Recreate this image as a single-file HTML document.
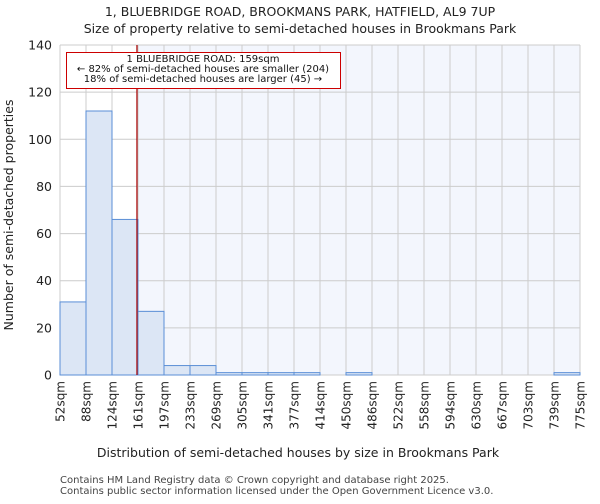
<!DOCTYPE html>
<html><head><meta charset="utf-8"><style>
body{margin:0;background:#fff;font-family:"DejaVu Sans","Liberation Sans",sans-serif;}
</style></head><body>
<svg width="600" height="500" xmlns="http://www.w3.org/2000/svg" font-family="DejaVu Sans, Liberation Sans, sans-serif">
<text x="300" y="16" text-anchor="middle" font-size="12.5" fill="#222">1, BLUEBRIDGE ROAD, BROOKMANS PARK, HATFIELD, AL9 7UP</text>
<text x="300" y="33" text-anchor="middle" font-size="12.5" fill="#222">Size of property relative to semi-detached houses in Brookmans Park</text>
<g id="plot"></g>
<text x="298" y="457" text-anchor="middle" font-size="12.5" fill="#222">Distribution of semi-detached houses by size in Brookmans Park</text>
<text transform="translate(13,215) rotate(-90)" text-anchor="middle" font-size="12.5" fill="#222">Number of semi-detached properties</text>
<text x="60" y="483" font-size="10" fill="#444">Contains HM Land Registry data © Crown copyright and database right 2025.</text>
<text x="60" y="494" font-size="10" fill="#444">Contains public sector information licensed under the Open Government Licence v3.0.</text>
</svg>
<script>
const binLabels=["52sqm","88sqm","124sqm","161sqm","197sqm","233sqm","269sqm","305sqm","341sqm","377sqm","414sqm","450sqm","486sqm","522sqm","558sqm","594sqm","630sqm","667sqm","703sqm","739sqm","775sqm"];
const counts=[31,112,66,27,4,4,1,1,1,1,0,1,0,0,0,0,0,0,0,1];
const yTicks=[0,20,40,60,80,100,120,140];
const subjectSize=159;
const xMin=52,xMax=775,yMax=140;
const L=60,R=580,T=45,B=375;
const NS="http://www.w3.org/2000/svg";
const g=document.getElementById('plot');
function xs(v){return L+(v-xMin)/(xMax-xMin)*(R-L);}
function xi(i){return L+i*(R-L)/counts.length;}
function ys(v){return B-v/yMax*(B-T);}
function mk(tag,attrs,parent){const e=document.createElementNS(NS,tag);for(const k in attrs)e.setAttribute(k,attrs[k]);(parent||g).appendChild(e);return e;}
const px=xs(subjectSize);
let bg=mk('rect',{x:px,y:T,width:R-px,height:B-T,fill:'#f3f6fd'});


for(let i=0;i<=counts.length;i++){let l=mk('line',{x1:xi(i),x2:xi(i),y1:T,y2:B,stroke:'#cccccc','stroke-width':1});

}
yTicks.forEach(t=>{let l=mk('line',{x1:L,x2:R,y1:ys(t),y2:ys(t),stroke:'#cccccc','stroke-width':1});


let tx=mk('text',{x:L-8,y:ys(t)+4.5,'text-anchor':'end','font-size':'12.5',fill:'#222'});tx.textContent=t;

});
counts.forEach((c,i)=>{if(c<=0)return;let r=mk('rect',{x:xi(i),y:ys(c),width:xi(i+1)-xi(i),height:B-ys(c),fill:'#dce6f5',stroke:'#5a8ed6','stroke-width':1});

});
binLabels.forEach((s,i)=>{let tx=mk('text',{transform:`translate(${xi(i)+4.5},381) rotate(-90)`,'text-anchor':'end','font-size':'12',fill:'#222'});tx.textContent=s;

});
let ml=mk('line',{x1:px,x2:px,y1:T,y2:B,stroke:'#aa0000','stroke-width':1.2});


let ab=mk('rect',{x:66.5,y:52.5,width:274,height:36,fill:'#fff',stroke:'#cc0000','stroke-width':1});


["1 BLUEBRIDGE ROAD: 159sqm","← 82% of semi-detached houses are smaller (204)","18% of semi-detached houses are larger (45) →"].forEach((s,k)=>{let tx=mk('text',{x:203,y:62+k*10,'text-anchor':'middle','font-size':'10',fill:'#111'});tx.textContent=s;

});
</script>
</body></html>
